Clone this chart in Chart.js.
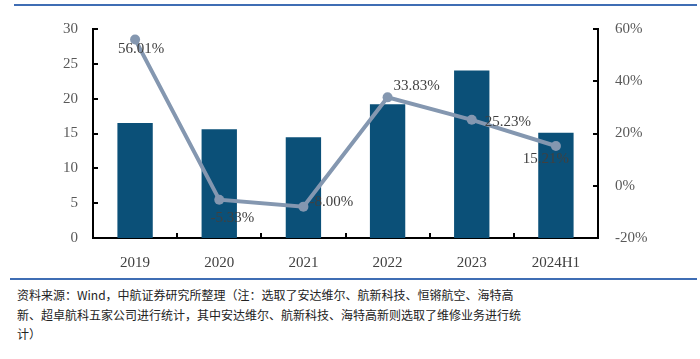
<!DOCTYPE html>
<html>
<head>
<meta charset="utf-8">
<script src="https://cdn.jsdelivr.net/npm/chart.js@4"></script>
<style>
  html, body { margin: 0; padding: 0; background: #fff; }
  body { width: 700px; height: 359px; position: relative; overflow: hidden; }
  .rule { position: absolute; height: 2px; background: #3f6db4; }
  #wrap { position: absolute; left: 0; top: 0; width: 700px; height: 275px; }
  #note {
    position: absolute; left: 17px; top: 285px; width: 683px; white-space: nowrap;
    font-family: "Noto Sans CJK SC", sans-serif; font-size: 12px; line-height: 19.5px;
    letter-spacing: 0px; color: #222;
  }
</style>
</head>
<body>
<div class="rule" style="left:14px;top:4px;width:683px;"></div>
<div id="wrap"><canvas id="chart" width="700" height="275"></canvas></div>
<div class="rule" style="left:10px;top:278px;width:687px;"></div>
<div id="note">资料来源：Wind，中航证券研究所整理（注：选取了安达维尔、航新科技、恒锵航空、海特高<br>新、超卓航科五家公司进行统计，其中安达维尔、航新科技、海特高新则选取了维修业务进行统<br>计）</div>

<script>
// ===== Data =====
const years = ['2019', '2020', '2021', '2022', '2023', '2024H1'];
const revenue = [16.5, 15.6, 14.45, 19.2, 24.05, 15.1];
const growth = [56.01, -5.33, -8.00, 33.83, 25.23, 15.21];
const leftTicks = [0, 5, 10, 15, 20, 25, 30];
const rightTicks = [-20, 0, 20, 40, 60];

// label placement relative to each point: [dx, dy, align]
const labelPos = [[6, 10, 'center'], [13, 18, 'center'], [6, -5, 'left'],
                  [6, -11, 'left'], [13, 2, 'left'], [-10, 13, 'center']];

const FONT = '"Liberation Serif", "Times New Roman", serif';

// inside tick marks on all three axes
const innerTicks = {
  id: 'innerTicks',
  afterDraw(chart) {
    const { ctx, chartArea: a, scales } = chart;
    ctx.save();
    ctx.strokeStyle = '#000';
    ctx.lineWidth = 2;
    ctx.beginPath();
    leftTicks.forEach(v => {
      const y = Math.round(scales.y.getPixelForValue(v));
      ctx.moveTo(a.left, y); ctx.lineTo(a.left + 5, y);
    });
    rightTicks.forEach(v => {
      const y = Math.round(scales.y1.getPixelForValue(v));
      ctx.moveTo(a.right, y); ctx.lineTo(a.right - 5, y);
    });
    const step = (a.right - a.left) / years.length;
    for (let i = 1; i < years.length; i++) {
      const x = Math.round(a.left + step * i);
      ctx.moveTo(x, a.bottom); ctx.lineTo(x, a.bottom - 5);
    }
    ctx.stroke();
    ctx.restore();
  }
};

const pointLabels = {
  id: 'pointLabels',
  afterDatasetsDraw(chart) {
    const { ctx } = chart;
    const meta = chart.getDatasetMeta(0);
    ctx.save();
    ctx.font = '15px ' + FONT;
    ctx.fillStyle = '#404040';
    ctx.textBaseline = 'middle';
    meta.data.forEach((pt, i) => {
      const [dx, dy, align] = labelPos[i];
      ctx.textAlign = align;
      ctx.fillText(growth[i].toFixed(2) + '%', pt.x + dx, pt.y + dy);
    });
    ctx.restore();
  }
};

new Chart(document.getElementById('chart'), {
  type: 'bar',
  data: {
    labels: years,
    datasets: [
      {
        type: 'line', label: '增速', data: growth, yAxisID: 'y1', order: 0,
        borderColor: '#8497b0', backgroundColor: '#8497b0', borderWidth: 4,
        pointRadius: 5, pointBackgroundColor: '#8497b0', pointBorderWidth: 0,
        tension: 0
      },
      {
        type: 'bar', label: '收入', data: revenue, yAxisID: 'y', order: 1,
        backgroundColor: '#0b5078', categoryPercentage: 1, barPercentage: 0.42
      }
    ]
  },
  options: {
    responsive: false,
    animation: false,
    layout: { padding: { top: 29, left: 0, right: 0, bottom: 0 } },
    plugins: { legend: { display: false }, tooltip: { enabled: false } },
    scales: {
      x: {
        grid: { display: false, drawTicks: false },
        border: { display: true, color: '#000', width: 2 },
        ticks: { color: '#404040', font: { family: FONT, size: 15 }, padding: 16 },
        afterFit(s) { s.height = 37; }
      },
      y: {
        position: 'left', min: 0, max: 30,
        grid: { display: false, drawTicks: false },
        border: { display: true, color: '#000', width: 2 },
        ticks: { stepSize: 5, color: '#595959', font: { family: FONT, size: 15 }, padding: 15 },
        afterFit(s) { s.width = 93; }
      },
      y1: {
        position: 'right', min: -20, max: 60,
        grid: { display: false, drawTicks: false },
        border: { display: true, color: '#000', width: 2 },
        ticks: { stepSize: 20, color: '#595959', font: { family: FONT, size: 15 }, padding: 17,
                 callback: v => v + '%' },
        afterFit(s) { s.width = 102; }
      }
    }
  },
  plugins: [innerTicks, pointLabels]
});
</script>
</body>
</html>
